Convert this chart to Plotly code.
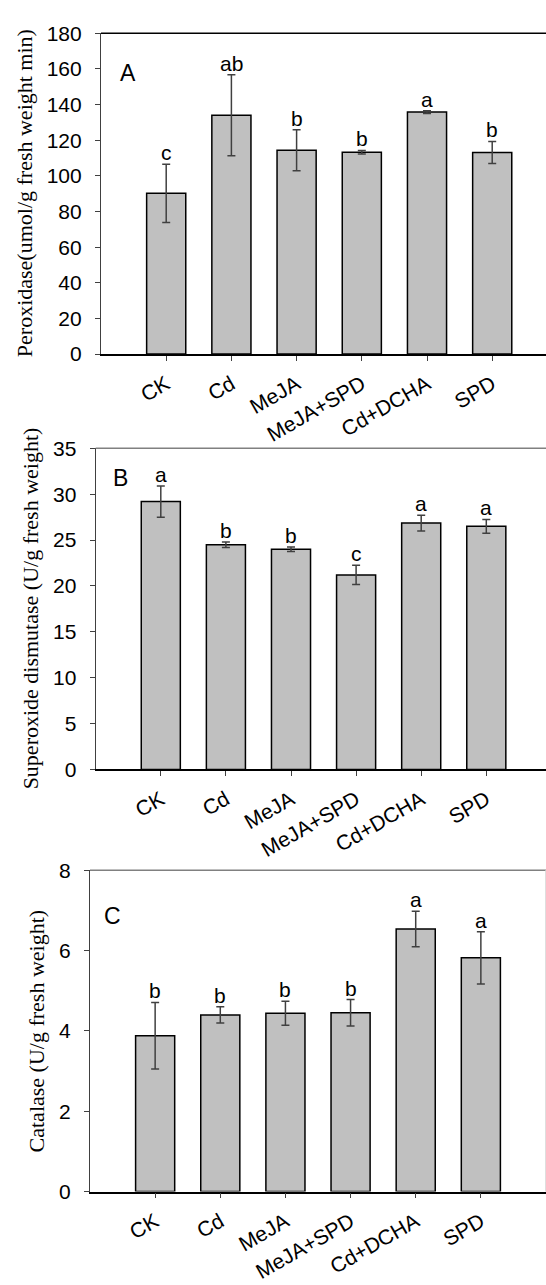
import plotly.graph_objects as go

categories = ["CK", "Cd", "MeJA", "MeJA+SPD", "Cd+DCHA", "SPD"]

pod_values = [90.2, 134.0, 114.4, 113.3, 135.8, 113.1]
pod_errors = [16.3, 22.7, 11.5, 1.0, 0.8, 6.2]
pod_letters = ["c", "ab", "b", "b", "a", "b"]

sod_values = [29.2, 24.5, 24.0, 21.2, 26.85, 26.5]
sod_errors = [1.7, 0.3, 0.25, 1.05, 0.85, 0.75]
sod_letters = ["a", "b", "b", "c", "a", "a"]

cat_values = [3.88, 4.40, 4.44, 4.45, 6.54, 5.82]
cat_errors = [0.83, 0.20, 0.30, 0.33, 0.44, 0.65]
cat_letters = ["b", "b", "b", "b", "a", "a"]

y_titles = ["Peroxidase(umol/g fresh weight min)",
            "Superoxide dismutase (U/g fresh weight)",
            "Catalase (U/g fresh weight)"]
panel_labels = ["A", "B", "C"]
y_ranges = [[0, 180], [0, 35], [0, 8]]
y_dticks = [20, 5, 2]

W, H = 546, 1285
SANS = "Liberation Sans, Arial, sans-serif"
SERIF = "Liberation Serif, Times New Roman, serif"

# pixel geometry of each panel: left, top, bottom, x-range right end, title x, label x,y
panels = [
    dict(left=101, top=21.7, bottom=348.3, xr=5.825, tx=24.5, lx=127.5, ly=62),
    dict(left=95.7, top=444.3, bottom=771.2, xr=5.917, tx=30.5, lx=120, ly=474),
    dict(left=90, top=874, bottom=1201, xr=6.0, tx=36.5, lx=113, ly=920),
]
top_line_colors = ["#000000", "#808080", "#808080"]

series = [(pod_values, pod_errors, pod_letters),
          (sod_values, sod_errors, sod_letters),
          (cat_values, cat_errors, cat_letters)]

fig = go.Figure()
annotations = []
shapes = []
layout = {}

for i, ((vals, errs, letters), p) in enumerate(zip(series, panels)):
    n = "" if i == 0 else str(i + 1)
    xa, ya = "x" + n, "y" + n
    fig.add_trace(go.Bar(
        x=categories, y=vals, xaxis=xa, yaxis=ya, width=0.6,
        marker=dict(color="#c0c0c0", line=dict(color="#000000", width=1.5)),
        error_y=dict(type="data", array=errs, color="#404040", thickness=1.5, width=4),
        showlegend=False, hoverinfo="skip",
    ))
    ydom = [1 - p["bottom"] / H, 1 - p["top"] / H]
    layout["xaxis" + n] = dict(
        domain=[p["left"] / W, 1], anchor=ya, type="category",
        categoryorder="array", categoryarray=categories,
        range=[-1, p["xr"]], showline=True, linecolor="#000000", linewidth=1.5,
        ticks="outside", ticklen=5, tickcolor="#404040", tickwidth=1.2,
        tickangle=-30, tickfont=dict(family=SANS, size=21, color="#000000"),
        ticklabelstandoff=3,
        showgrid=False, zeroline=False, fixedrange=True,
    )
    layout["yaxis" + n] = dict(
        domain=ydom, anchor=xa, range=y_ranges[i], dtick=y_dticks[i],
        showline=True, linecolor="#404040", linewidth=1.2,
        ticks="outside", ticklen=5, tickcolor="#404040", tickwidth=1.2,
        tickfont=dict(family=SANS, size=21, color="#000000"),
        ticklabelstandoff=9,
        showgrid=False, zeroline=False, fixedrange=True,
    )
    # top frame line
    shapes.append(dict(type="line", xref=xa + " domain", yref=ya + " domain",
                       x0=0, x1=1, y0=1, y1=1,
                       line=dict(color=top_line_colors[i], width=1.5)))
    # significance letters
    for c, v, e, t in zip(categories, vals, errs, letters):
        annotations.append(dict(x=c, y=v + e, xref=xa, yref=ya, text=t,
                                showarrow=False, yanchor="bottom", yshift=-2,
                                font=dict(family=SANS, size=21, color="#000000")))
    # panel label
    annotations.append(dict(x=p["lx"] / W, y=1 - p["ly"] / H, xref="paper", yref="paper",
                            text=panel_labels[i], showarrow=False,
                            xanchor="center", yanchor="middle",
                            font=dict(family=SANS, size=23, color="#000000")))
    # y title
    annotations.append(dict(x=p["tx"] / W, y=(ydom[0] + ydom[1]) / 2, xref="paper", yref="paper",
                            text=y_titles[i], showarrow=False, textangle=-90,
                            xanchor="center", yanchor="middle",
                            font=dict(family=SERIF, size=22, color="#000000")))

shapes.append(dict(type="line", xref="x3 domain", yref="y3 domain",
                   x0=0.999, x1=0.999, y0=0, y1=1,
                   line=dict(color="#dddddd", width=1)))

fig.update_layout(
    width=W, height=H, margin=dict(l=0, r=0, t=0, b=0),
    paper_bgcolor="white", plot_bgcolor="white",
    annotations=annotations, shapes=shapes, bargap=0.4,
    **layout,
)

fig.write_html("out.html", config={"displayModeBar": False})
